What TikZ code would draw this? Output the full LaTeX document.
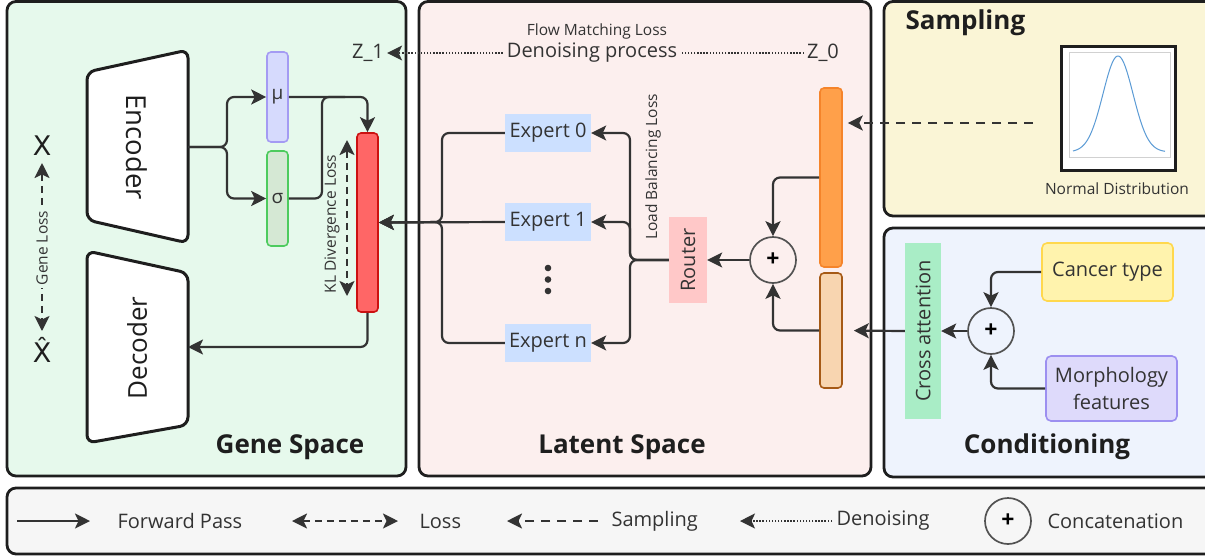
\documentclass[tikz,border=0pt]{standalone}
\usepackage{fontspec}
\setmainfont{Open Sans}
\newfontfamily\djv{DejaVu Sans}
\usetikzlibrary{arrows.meta,calc}
\definecolor{ink}{HTML}{333333}
\definecolor{frame}{HTML}{1E1E1E}
\definecolor{genebg}{HTML}{E6F9EC}
\definecolor{latbg}{HTML}{FCEFEE}
\definecolor{sampbg}{HTML}{FAF5D6}
\definecolor{condbg}{HTML}{EEF3FD}
\definecolor{legbg}{HTML}{F6F6F6}
\definecolor{mufill}{HTML}{D6DAFD}
\definecolor{mudraw}{HTML}{A49BF3}
\definecolor{sgfill}{HTML}{D5E8D4}
\definecolor{sgdraw}{HTML}{4DCB5E}
\definecolor{redfill}{HTML}{FF6666}
\definecolor{reddraw}{HTML}{CC1111}
\definecolor{orfill}{HTML}{FFA04A}
\definecolor{ordraw}{HTML}{F5842A}
\definecolor{pefill}{HTML}{F8D5B0}
\definecolor{pedraw}{HTML}{A65A16}
\definecolor{expfill}{HTML}{CCE0FF}
\definecolor{roufill}{HTML}{FFC8C8}
\definecolor{crossfill}{HTML}{A9EDC6}
\definecolor{cafill}{HTML}{FFF3AD}
\definecolor{cadraw}{HTML}{FFD84D}
\definecolor{mofill}{HTML}{DEDAFB}
\definecolor{modraw}{HTML}{9C8FF0}
\definecolor{bell}{HTML}{5B9BD5}
\newcommand{\fsz}[1]{\fontsize{#1}{#1}\selectfont}
\tikzset{>={Stealth[length=15pt,width=15pt,inset=3.5pt]}}
\begin{document}
\begin{tikzpicture}[x=1pt,y=-1pt,
  panel/.style={draw=frame, line width=2.8pt, rounded corners=9pt},
  trap/.style={draw=frame, fill=white, line width=3pt, rounded corners=8pt},
  bar/.style={line width=1.6pt, rounded corners=4pt, inner sep=0pt},
  flat/.style={inner sep=0pt},
  fwd/.style={draw=ink, line width=2.2pt, rounded corners=7pt, ->},
  plain/.style={draw=ink, line width=2.2pt, rounded corners=7pt},
  lossarr/.style={draw=ink, line width=2.2pt, dash pattern=on 7pt off 5pt, <->},
  samparr/.style={draw=ink, line width=2.2pt, dash pattern=on 9pt off 7pt, ->},
  denarr/.style={draw=ink, line width=1.4pt, dash pattern=on 1.4pt off 1.7pt},
  plusnode/.style={circle, draw=ink!85, line width=1.7pt, minimum size=46pt, inner sep=0pt, font=\fsz{23}\bfseries},
  title/.style={font=\fsz{26}\bfseries, text=frame},
  lbl/.style={font=\fsz{20}, text=ink},
  small/.style={font=\fsz{15.5}, text=ink},
  legtxt/.style={font=\fsz{20}, text=ink, anchor=west}
]
\useasboundingbox (0,0) rectangle (1205,558);

% panels
\draw[panel, fill=genebg] (7,1.5) rectangle (406,476);
\draw[panel, fill=latbg] (419,1.5) rectangle (871,476);
\draw[panel, fill=sampbg] (884,1.5) rectangle (1215,216);
\draw[panel, fill=condbg] (884,228) rectangle (1215,477);
\draw[panel, fill=legbg] (7,488) rectangle (1215,554);

% titles
\node[title] (tgene) at (290,447) {Gene Space};
\node[title] (tlat) at (622,447) {Latent Space};
\node[title, anchor=west] (tsamp) at (902,23) {Sampling};
\node[title] (tcond) at (1047,447) {Conditioning};

% ---------- Gene space ----------
\draw[trap] (87,72) -- (188,50) -- (188,243) -- (87,220) -- cycle;
\draw[trap] (87,251) -- (188,273) -- (188,425) -- (87,443) -- cycle;
\node[font=\fsz{27.5}, text=frame, rotate=-90] (enc) at (137,147) {Encoder};
\node[font=\fsz{26}, text=frame, rotate=90] (dec) at (137,348) {Decoder};
\coordinate (encR) at (188,147);
\coordinate (decR) at (188,347);

\node[bar, draw=mudraw, fill=mufill, minimum width=21pt, minimum height=90pt] (mu) at (277.5,97) {};
\node[font=\fsz{19}, text=ink] at (mu) {μ};
\node[bar, draw=sgdraw, fill=sgfill, minimum width=21pt, minimum height=95pt] (sg) at (277.5,198.5) {};
\node[font=\fsz{19}, text=ink] at (sg) {σ};
\node[bar, draw=reddraw, fill=redfill, minimum width=21pt, minimum height=179pt] (red) at (367.5,222.5) {};

\coordinate (encJ) at (227,147);
\draw[fwd] (encR) -- (encJ) |- (mu.west);
\draw[fwd] (encR) -- (encJ) |- (sg.west);
\draw[fwd] (mu.east) -| (red.north);
\draw[plain] (sg.east) -| (322,97) -- (345,97);
\draw[fwd] (red.south) |- (decR);

\coordinate (kla) at (347,140);
\coordinate (klb) at (347,296);
\draw[lossarr] (kla) -- (klb);
\node[small, rotate=90] (kl) at (332,224) {KL Divergence Loss};

\node[font=\djv\fsz{27}, text=frame] (X) at (42,146) {X};
\node[font=\djv\fsz{27}, text=frame] (Xh) at (42,350) {X̂};
\coordinate (gla) at (42,163);
\coordinate (glb) at (42,331);
\draw[lossarr] (gla) -- (glb);
\node[font=\fsz{15.5}, text=ink, rotate=90, fill=genebg, inner sep=3pt] (gl) at (42,248) {Gene Loss};

% ---------- Latent space ----------
\node[small] (fm) at (597,31) {Flow Matching Loss};
\node[font=\fsz{20}, text=ink, inner sep=4pt] (dp) at (592,53) {Denoising process};
\node[font=\fsz{20}, text=ink, inner sep=3pt] (z0) at (823,53) {Z\_0};
\node[font=\fsz{20}, text=ink, inner sep=3pt] (z1) at (368,53) {Z\_1};
\draw[denarr] (z0.west) -- (dp.east);
\draw[denarr, ->] (dp.west) -- (z1.east);

\node[lbl, flat, fill=expfill, minimum width=86pt, minimum height=38pt] (e0) at (548,133) {Expert 0};
\node[lbl, flat, fill=expfill, minimum width=86pt, minimum height=38pt] (e1) at (548,222) {Expert 1};
\node[lbl, flat, fill=expfill, minimum width=86pt, minimum height=38pt] (en) at (548,343) {Expert n};
\fill[ink] (548,268) circle (3.3pt) (548,279.5) circle (3.3pt) (548,291) circle (3.3pt);

\node[lbl, flat, fill=roufill, minimum width=38pt, minimum height=86pt] (router) at (688,260) {};
\node[lbl, rotate=90] at (router) {Router};
\node[small, rotate=90] (lbl) at (653,167) {Load Balancing Loss};

\coordinate (rJ) at (630,260);
\draw[fwd] (router.west) -- (rJ) |- (e0.east);
\draw[fwd] (router.west) -- (rJ) |- (e1.east);
\draw[fwd] (router.west) -- (rJ) |- (en.east);

\coordinate (lJ) at (442,222);
\draw[fwd] (e0.west) -| (lJ) -- (red.east);
\draw[fwd] (en.west) -| (lJ) -- (red.east);
\draw[fwd] (e1.west) -- (red.east);

\node[plusnode] (pL) at (773,260) {+};
\node[bar, draw=ordraw, fill=orfill, minimum width=22pt, minimum height=179pt] (orb) at (831,177.5) {};
\node[bar, draw=pedraw, fill=pefill, minimum width=22pt, minimum height=115pt] (peb) at (831,330.5) {};
\draw[fwd] (orb.west) -| (pL.north);
\draw[fwd] (peb.west) -| (pL.south);
\draw[fwd] (pL.west) -- (router.east);

% ---------- Sampling ----------
\draw[line width=3pt, draw=frame, fill=white] (1061,46) rectangle (1175,170);
\node[flat, draw=black!18, line width=1pt, fill=white, minimum width=101pt, minimum height=105pt] (nd) at (1119.5,104.5) {};
\draw[bell, line width=1pt] plot[domain=1073:1165, samples=90, smooth] (\x, {152-96*exp(-((\x-1118)/15)^2/2)});
\node[small] (ndl) at (1117,189) {Normal Distribution};
\coordinate (sS) at (1033,123);
\draw[samparr, shorten >=5pt] (sS) -- (orb.east |- sS);

% ---------- Conditioning ----------
\node[flat, fill=crossfill, minimum width=36pt, minimum height=176pt] (cross) at (923,331) {};
\node[lbl, rotate=90] at (cross) {Cross attention};
\node[plusnode] (pC) at (991,331) {+};
\node[lbl, draw=cadraw, fill=cafill, line width=1.6pt, rounded corners=5pt, minimum width=131pt, minimum height=58pt] (ca) at (1107.5,272) {Cancer type};
\node[draw=modraw, fill=mofill, line width=1.6pt, rounded corners=5pt, minimum width=131pt, minimum height=65pt, align=center, font=\fontsize{20}{27}\selectfont, text=ink] (mo) at (1111.5,388.5) {Morphology\\features};
\draw[fwd] (ca.west) -| (pC.north);
\draw[fwd] (mo.west) -| (pC.south);
\draw[fwd] (pC.west) -- (cross.east);
\draw[fwd, shorten >=11pt] (cross.west) -- (peb.east);

% ---------- Legend ----------
\coordinate (f1) at (17,521); \coordinate (f2) at (90,521);
\draw[fwd] (f1) -- (f2);
\node[legtxt] (tf) at (114,521) {Forward Pass};
\coordinate (l1) at (292,521); \coordinate (l2) at (398,521);
\draw[lossarr] (l1) -- (l2);
\node[legtxt] (tl) at (416,521) {Loss};
\coordinate (s1) at (598,521); \coordinate (s2) at (507,521);
\draw[samparr] (s1) -- (s2);
\node[legtxt] (ts) at (608,521) {Sampling};
\coordinate (d1) at (832,521); \coordinate (d2) at (740,521);
\draw[denarr, ->] (d1) -- (d2);
\node[legtxt] (td) at (833,521) {Denoising};
\node[plusnode] (pg) at (1008,521) {+};
\node[legtxt] (tc) at (1044,521) {Concatenation};
\end{tikzpicture}
\end{document}
